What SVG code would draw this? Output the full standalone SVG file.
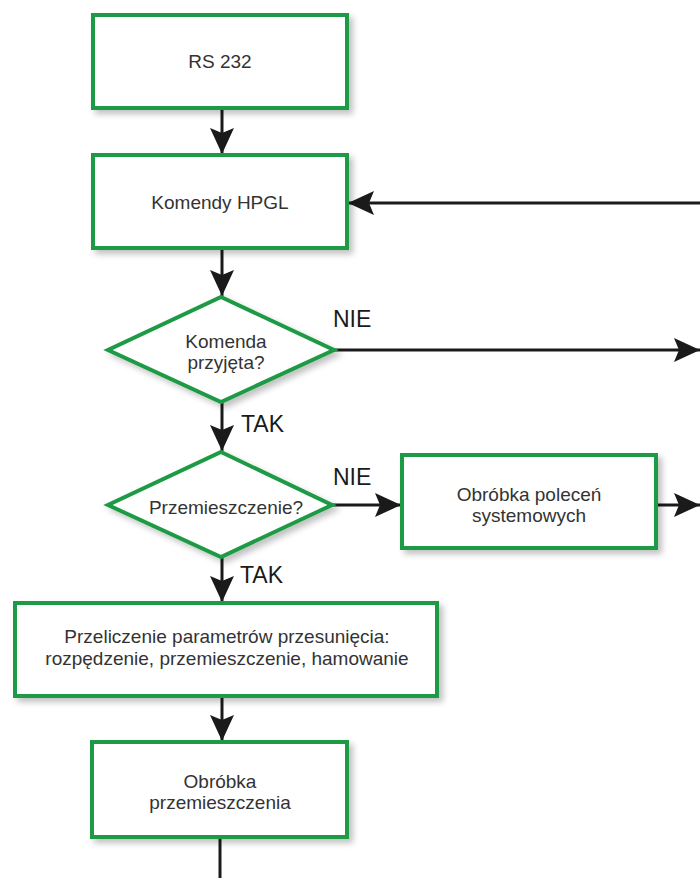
<svg xmlns="http://www.w3.org/2000/svg" width="700" height="878" viewBox="0 0 700 878">
<style>
.box{fill:#ffffff;stroke:#1f9a45;stroke-width:4;filter:url(#sh)}
.t{font-family:"Liberation Sans",Arial,sans-serif;font-size:19px;fill:#333333;text-anchor:middle}
.lbl{font-family:"Liberation Sans",Arial,sans-serif;font-size:23px;fill:#1a1a1a}
.c{fill:none;stroke:#1a1a1a;stroke-width:3}
</style>
<defs>
<filter id="sh" x="-10%" y="-10%" width="130%" height="140%">
<feGaussianBlur in="SourceAlpha" stdDeviation="3"/>
<feOffset dx="4" dy="4" result="b"/>
<feComponentTransfer><feFuncA type="linear" slope="0.25"/></feComponentTransfer>
<feMerge><feMergeNode/><feMergeNode in="SourceGraphic"/></feMerge>
</filter>
<marker id="ah" markerUnits="userSpaceOnUse" markerWidth="28" markerHeight="24" refX="26" refY="12" orient="auto">
<path d="M0,0 L26,12 L0,24 L5,12 Z" fill="#1a1a1a"/>
</marker>
</defs>
<rect width="700" height="878" fill="#ffffff"/>
<g id="connectors">
<line class="c" x1="222" y1="108" x2="222" y2="154" marker-end="url(#ah)"/>
<line class="c" x1="700" y1="203" x2="348" y2="203" marker-end="url(#ah)"/>
<line class="c" x1="222" y1="248" x2="222" y2="296" marker-end="url(#ah)"/>
<line class="c" x1="334" y1="350" x2="700" y2="350" marker-end="url(#ah)"/>
<line class="c" x1="222" y1="402" x2="222" y2="451" marker-end="url(#ah)"/>
<line class="c" x1="332" y1="505" x2="401" y2="505" marker-end="url(#ah)"/>
<line class="c" x1="656" y1="505" x2="700" y2="505" marker-end="url(#ah)"/>
<line class="c" x1="222" y1="557" x2="222" y2="602" marker-end="url(#ah)"/>
<line class="c" x1="222" y1="696" x2="222" y2="741" marker-end="url(#ah)"/>
<line class="c" x1="220" y1="837" x2="220" y2="878"/>
<text class="lbl" x="333" y="327">NIE</text>
<text class="lbl" x="241" y="432">TAK</text>
<text class="lbl" x="333" y="485">NIE</text>
<text class="lbl" x="240" y="583">TAK</text>
</g>
<g id="rs232">
<rect class="box" x="93" y="15" width="254" height="93"/>
<text class="t" x="220" y="68">RS 232</text>
</g>
<g id="hpgl">
<rect class="box" x="93" y="155" width="254" height="93"/>
<text class="t" x="220" y="209">Komendy HPGL</text>
</g>
<g id="dec1">
<polygon class="box" points="221,297 334,350 221,402 108,350"/>
<text class="t" x="226" y="348">Komenda</text>
<text class="t" x="226" y="369">przyjęta?</text>
</g>
<g id="dec2">
<polygon class="box" points="221,452 332,505 221,557 108,505"/>
<text class="t" x="226" y="514">Przemieszczenie?</text>
</g>
<g id="sys">
<rect class="box" x="402" y="455" width="254" height="93"/>
<text class="t" x="529" y="501">Obróbka poleceń</text>
<text class="t" x="529" y="522">systemowych</text>
</g>
<g id="calc">
<rect class="box" x="15" y="603" width="422" height="93"/>
<text class="t" x="227" y="643">Przeliczenie parametrów przesunięcia:</text>
<text class="t" x="227" y="665">rozpędzenie, przemieszczenie, hamowanie</text>
</g>
<g id="move">
<rect class="box" x="92" y="742" width="255" height="95"/>
<text class="t" x="220" y="788">Obróbka</text>
<text class="t" x="220" y="809">przemieszczenia</text>
</g>
</svg>
